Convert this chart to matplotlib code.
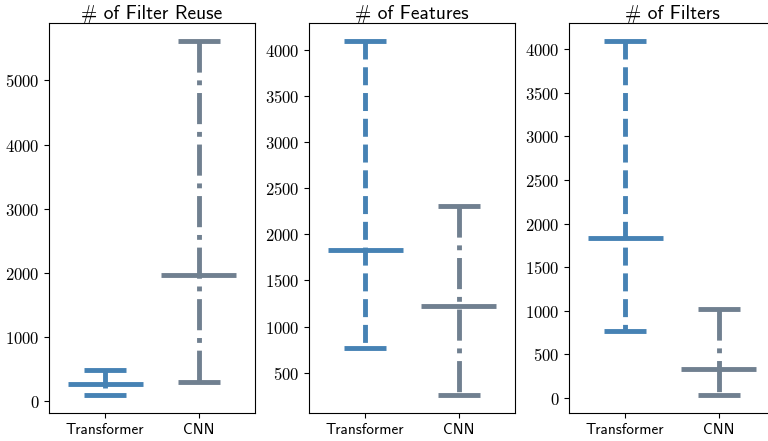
import matplotlib
matplotlib.use("Agg")
import matplotlib.pyplot as plt
from matplotlib.ticker import FuncFormatter

plt.rcParams['mathtext.fontset'] = 'cm'

# model names and colours
models = ["Transformer", "CNN"]
colors = ["steelblue", "slategray"]
styles = ["--", "-."]

titles = ["# of Filter Reuse", "# of Features", "# of Filters"]

# min / mean / max for each panel, order: Transformer, CNN
mins = [[90, 290], [768, 256], [768, 32]]
means = [[260, 1970], [1830, 1226], [1837, 333]]
maxs = [[480, 5620], [4096, 2304], [4096, 1024]]

fig = plt.figure(figsize=(7.68, 4.41), dpi=100)
W, H = 768, 441
lefts = [49, 309, 569]
ax_w, top, bottom = 206, 23, 413

for k in range(3):
    ax = fig.add_axes([lefts[k] / W, 1 - bottom / H, ax_w / W, (bottom - top) / H])
    for i in range(2):
        x = i + 1
        # draw from top to bottom so the dash pattern starts at the max cap
        ax.plot([x, x], [maxs[k][i], mins[k][i]], color=colors[i],
                linestyle=styles[i], linewidth=3.5)
        ax.hlines([mins[k][i], maxs[k][i]], x - 0.225, x + 0.225, color=colors[i],
                  linewidth=3.5)
        ax.hlines(means[k][i], x - 0.4, x + 0.4, color=colors[i], linewidth=3.5)
    ax.set_xlim(0.4, 2.6)
    ax.set_xticks([1, 2])
    ax.set_xticklabels(models, family='cmss10', fontsize=11)
    ax.yaxis.set_major_formatter(FuncFormatter(lambda v, p: r'$%d$' % v))
    ax.tick_params(axis='y', labelsize=12)
    ax.set_title(titles[k], family='cmss10', fontsize=14, pad=3)

fig.savefig("out.png", dpi=100)
